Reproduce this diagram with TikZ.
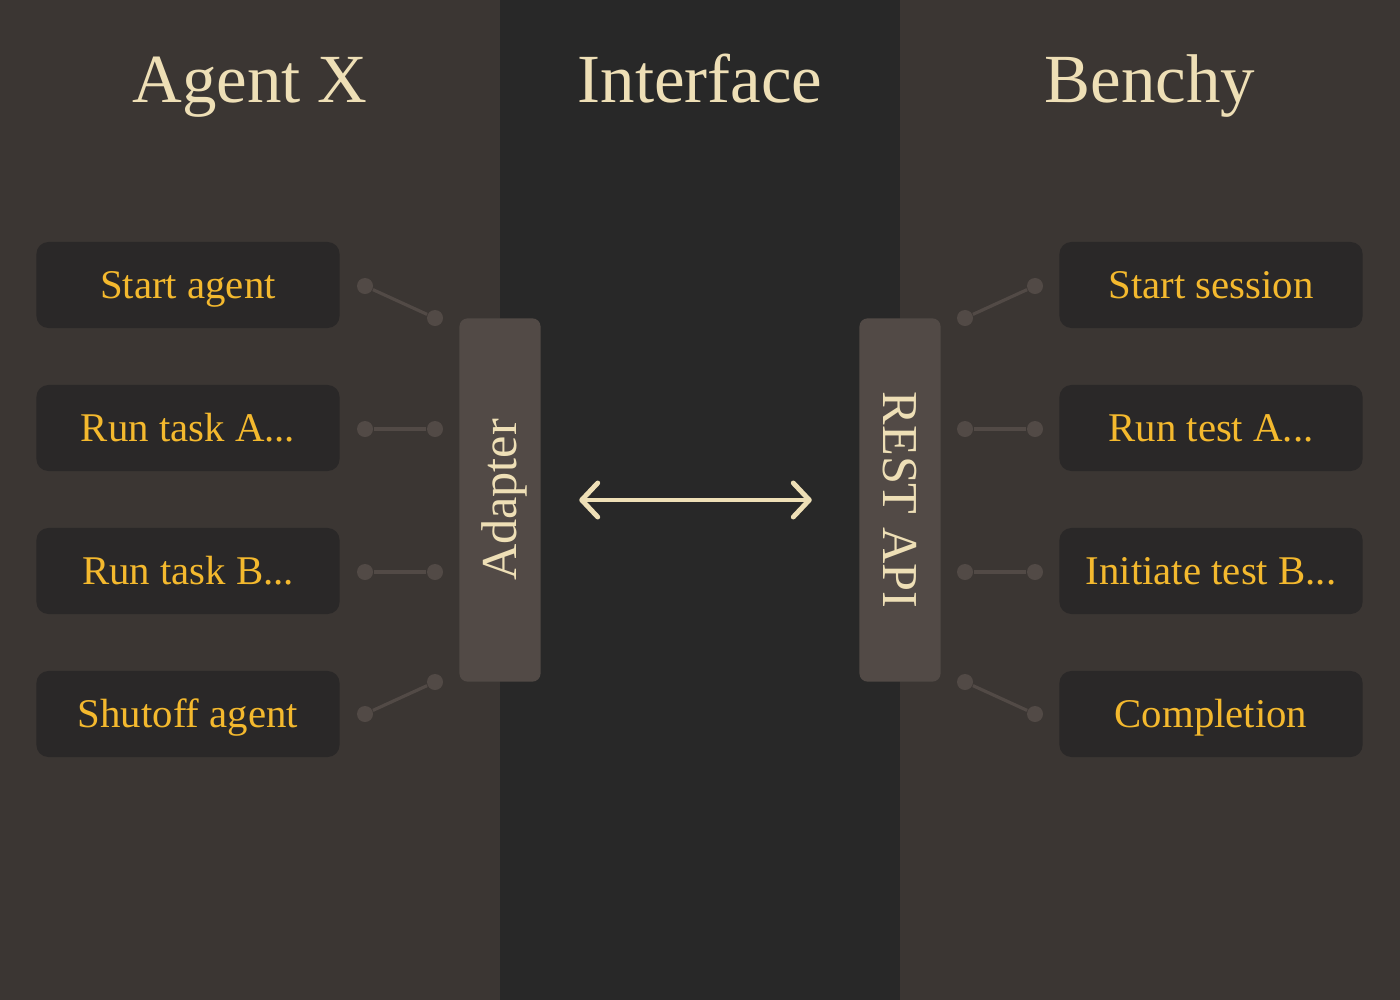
\documentclass[tikz,border=0pt]{standalone}
\usepackage{fontspec}
\setmainfont{Liberation Serif}
\usetikzlibrary{arrows.meta}
\definecolor{PanelBrown}{HTML}{3B3633}
\definecolor{MidDark}{HTML}{282828}
\definecolor{BoxDark}{HTML}{2A2828}
\definecolor{PortGrey}{HTML}{524A46}
\definecolor{WireGrey}{HTML}{524A46}
\definecolor{TaskGold}{HTML}{F4B92E}
\definecolor{Cream}{HTML}{EEDFB6}

\begin{document}
\begin{tikzpicture}[x=0.01cm,y=-0.01cm,
    taskbox/.style={fill=BoxDark,rounded corners=0.12cm,minimum width=3.03cm,minimum height=0.86cm,
      inner sep=0pt,text=TaskGold,font=\fontsize{11.6}{14}\selectfont,text height=7.7pt,text depth=0pt},
    portbar/.style={fill=PortGrey,rounded corners=0.08cm,minimum width=3.63cm,minimum height=0.81cm,
      inner sep=0pt,text=Cream,font=\fontsize{14.3}{17}\selectfont,text height=9.5pt,text depth=0pt},
    dot/.style={circle,fill=WireGrey,minimum size=0.16cm,inner sep=0pt},
    wire/.style={WireGrey,line width=0.9pt},
    title/.style={text=Cream,font=\fontsize{19.6}{24}\selectfont,anchor=base,inner sep=0pt},
    link/.style={Cream,line width=1.4pt,
      {Straight Barb[round,length=1.6mm,width=3.4mm]}-{Straight Barb[round,length=1.6mm,width=3.4mm]}}]
        \useasboundingbox (0,0) rectangle (1400,1000);
        \fill[PanelBrown] (0,0) rectangle (500,1000);
        \fill[MidDark] (500,0) rectangle (900,1000);
        \fill[PanelBrown] (900,0) rectangle (1400,1000);

        \node[title] (tagent) at (250,102) {Agent X};
        \node[title] (tiface) at (700,102) {Interface};
        \node[title] (tbench) at (1150,102) {Benchy};

        \foreach \i/\y/\txt in {1/285/{Start agent},2/428/{Run task A...},3/571/{Run task B...},4/714/{Shutoff agent}} {
          \node[taskbox] (agent\i) at (188,\y) {\txt};
        }
        \foreach \i/\y/\txt in {1/285/{Start session},2/428/{Run test A...},3/571/{Initiate test B...},4/714/{Completion}} {
          \node[taskbox] (bench\i) at (1211,\y) {\txt};
        }

        \node[portbar,rotate=90] (adapter) at (500,500) {Adapter};
        \node[portbar,rotate=-90] (restapi) at (900,500) {REST API};

        % short wires next to the bars
        \foreach \i/\yo/\yi in {1/286/318,2/429/429,3/572/572,4/714/682} {
          \node[dot] (lo\i) at (365,\yo) {};
          \node[dot] (li\i) at (435,\yi) {};
          \draw[wire] (lo\i) -- (li\i);
          \node[dot] (ri\i) at (965,\yi) {};
          \node[dot] (ro\i) at (1035,\yo) {};
          \draw[wire] (ri\i) -- (ro\i);
        }

        \draw[link,shorten <=0.38cm,shorten >=0.47cm] (adapter) -- (restapi);
      \end{tikzpicture}
\end{document}
